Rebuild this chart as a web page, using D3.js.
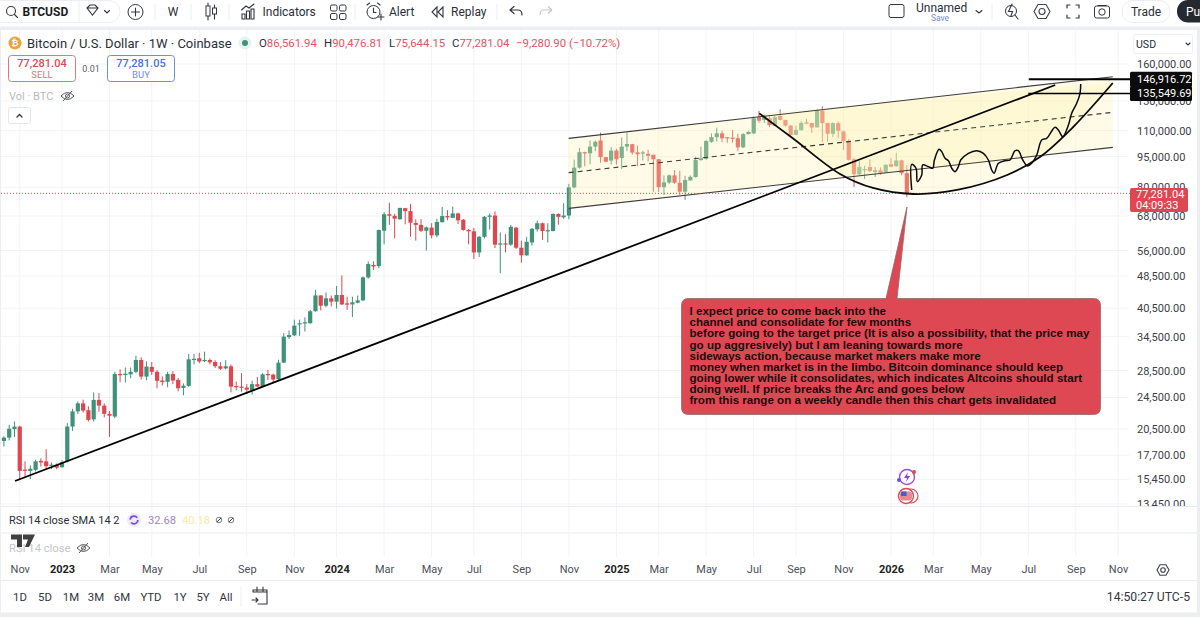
<!DOCTYPE html>
<html>
<head>
<meta charset="utf-8">
<title>BTCUSD weekly</title>
<script src="https://cdn.jsdelivr.net/npm/d3@7"></script>
<style>
    html, body { margin: 0; padding: 0; background: #fff; }
    svg { display: block; font-family: Roboto, "Open Sans", sans-serif; }
</style>
</head>
<body>
<div id="chart"></div>
<script>
// Weekly candles, Oct 17 2022 to Jan 26 2026
const weekOpen = [
    19180, 19540, 20500, 20790, 16320, 16200, 16300, 17150, 17100, 16680, 16780,
    16540, 17100, 20800, 22650, 23700, 22800, 21650, 24160, 23400, 22340, 22000, 27950, 27800,
    27900, 28300, 30250, 27550, 29100, 28300, 26950, 26750, 27950, 27040, 25850, 26150, 30300,
    30550, 30100, 30250, 29900, 29200, 28850, 29200, 26120, 26040, 25900, 25550, 26400, 26050,
    27950, 27850, 27150, 29800, 34400, 34750, 36950, 37150, 37200, 39800, 43500, 41050, 42800,
    42000, 43600, 41600, 41350, 41750, 42300, 48150, 51650, 51300, 62600, 68700, 68100, 66800,
    71100, 69900, 65400, 64700, 62600, 63700, 61000, 65700, 68000, 67300, 69000, 66600, 62900,
    62400, 55400, 60500, 67700, 68200, 57900, 58300, 57900, 63700, 56900, 54500, 58600, 63100,
    65300, 62400, 62500, 68800, 67500, 68200, 79900, 89300, 97400, 96800, 100500, 104000, 94700,
    92900, 98300, 94300, 100500, 101900, 97300, 96800, 96500, 96000, 93600, 80000, 82100, 85500,
    82000, 78000, 83100, 84700, 93200, 93800, 103300, 106000, 108300, 106000, 105700, 105400,
    100100, 107800, 108300, 118600, 116800, 118000, 113000, 119400, 116800, 113100, 107400,
    110200, 115200, 114800, 112000, 123000, 114700, 108000, 114700, 109500, 103700, 93600,
    86000, 88000, 89600, 87100, 88000, 86800, 91000, 90000, 93000, 86561.94
];
const weekHigh = [
    19700, 21000, 21400, 20900, 17100, 16700, 17250, 17400, 18300, 17000, 16900,
    17200, 21200, 23000, 23950, 24200, 23300, 25200, 25100, 23700, 22700, 28300, 28700, 29000,
    29000, 31000, 30700, 30000, 29900, 28600, 27600, 28300, 28400, 27350, 26500, 31300, 31300,
    31500, 31700, 30500, 30200, 29900, 30200, 29500, 26800, 28100, 26400, 26900, 27500, 28100,
    28600, 28000, 30300, 35200, 35700, 37950, 37950, 38450, 40100, 44900, 43500, 44200, 43500,
    45900, 48700, 43200, 43200, 43500, 48400, 52700, 52700, 63000, 69500, 73300, 68900, 71200,
    71200, 72800, 66800, 66800, 64100, 65300, 67000, 71600, 70300, 71700, 69300, 66900, 63200,
    63600, 60800, 68000, 69000, 69800, 62000, 61400, 64700, 64000, 59200, 60500, 63600, 66300,
    65500, 65300, 69000, 69000, 73100, 81500, 93400, 99700, 97700, 104000, 104000, 108700, 94800,
    100200, 99200, 105800, 108800, 102100, 101000, 98200, 98700, 96000, 93800, 85500, 86000, 88000,
    87700, 85300, 85500, 95000, 100500, 104300, 108300, 111800, 109900, 106000, 110400, 108000,
    108500, 109600, 119000, 122900, 120300, 119500, 119400, 123900, 116900, 113500, 113000,
    116000, 117400, 114900, 123900, 126000, 115100, 115200, 115900, 110000, 105000, 94300,
    92800, 90300, 93600, 89700, 89400, 91000, 94300, 97100, 93300, 90476.81
];
const weekLow = [
    18580, 19240, 19600, 15480, 15700, 15480, 16150, 16600, 16400, 16380, 16350,
    16500, 17000, 20300, 22300, 22500, 21400, 21400, 22600, 21900, 19620, 21800, 26700, 26650,
    27300, 28100, 27100, 27000, 27800, 25800, 26200, 25950, 26400, 25350, 24800, 26000, 29500,
    29700, 29900, 29500, 28900, 28600, 28700, 25200, 25500, 25300, 25000, 24900, 26000, 25950,
    27000, 26600, 26900, 29700, 34050, 34600, 34650, 35500, 37100, 39700, 40000, 40700, 40900,
    40400, 41200, 40100, 38500, 41600, 42200, 47800, 50200, 50700, 58000, 64700, 60000, 66600,
    64900, 60500, 59200, 62100, 56000, 60000, 60300, 65600, 66400, 67200, 65000, 62600, 58000,
    53400, 54000, 60000, 63000, 56800, 49300, 55400, 57500, 56500, 52300, 54400, 57600, 62300,
    59500, 58600, 62400, 64800, 67000, 66800, 79500, 88800, 90000, 91000, 97900, 91800, 92000,
    90900, 90800, 88600, 97900, 96000, 90000, 93000, 92500, 78000, 77900, 76500, 81500, 81500,
    76500, 74500, 83000, 84400, 92800, 93400, 102700, 103400, 103000, 102700, 102700, 97900,
    99700, 107700, 107900, 115000, 114800, 112100, 112800, 116500, 112500, 106600, 107300,
    110000, 114000, 108500, 111900, 103000, 103300, 106000, 105500, 98600, 93000, 80100,
    85500, 83800, 87000, 84700, 85800, 86700, 89500, 89700, 85500, 75644.15
];
const weekClose = [
    19540, 20550, 20790, 16200, 16260, 16400, 17100, 17000, 16640, 16780, 16500,
    17000, 20800, 22650, 23700, 22750, 21590, 24160, 23400, 22340, 22100, 27950, 27750, 28000,
    28300, 30250, 27550, 29140, 28300, 26900, 26700, 27950, 26950, 25800, 26170, 30360, 30450,
    30000, 30250, 29850, 29200, 28800, 29200, 26040, 26040, 25900, 25600, 26400, 26050, 27900,
    27850, 27100, 29800, 34500, 34800, 36700, 37200, 37400, 39800, 43500, 41050, 42800, 42000,
    43600, 41350, 41300, 41850, 42300, 48150, 51900, 51200, 62860, 68700, 68100, 67000, 71200,
    69900, 65500, 64700, 62600, 63800, 61000, 65800, 68000, 67500, 69000, 66400, 62900, 62400,
    55400, 60500, 67700, 68200, 57900, 58300, 58000, 64000, 56900, 54500, 58800, 63300, 65300,
    62500, 62800, 68800, 67700, 68200, 79900, 89300, 97400, 96800, 100500, 103300, 94700, 92300,
    98300, 93600, 100500, 102000, 97200, 96300, 97300, 95500, 93600, 80000, 82200, 85500, 82000,
    78000, 83300, 84800, 93200, 94100, 103700, 106000, 108300, 105300, 105300, 105400, 100100,
    107800, 109200, 117900, 116300, 119400, 113500, 118600, 116800, 113100, 107300, 110400,
    114900, 114400, 111900, 123400, 114700, 108000, 114700, 109900, 103700, 93300, 86000,
    89700, 88600, 87600, 88000, 86700, 90700, 89800, 93000, 86561.94, 77281.04
];

// Time axis
const timeTicks = ["2022-11-07", "2023-01-02", "2023-03-06", "2023-05-01", "2023-07-03", "2023-09-04", "2023-11-06",
    "2024-01-01", "2024-03-04", "2024-05-06", "2024-07-01", "2024-09-02", "2024-11-04",
    "2025-01-06", "2025-03-03", "2025-05-05", "2025-07-07", "2025-09-01", "2025-11-03",
    "2026-01-05", "2026-03-02", "2026-05-04", "2026-07-06", "2026-09-07", "2026-11-02"];
const timeLabels = ["Nov", "2023", "Mar", "May", "Jul", "Sep", "Nov", "2024", "Mar", "May", "Jul", "Sep", "Nov",
    "2025", "Mar", "May", "Jul", "Sep", "Nov", "2026", "Mar", "May", "Jul", "Sep", "Nov"];

// Price axis
const priceTicks = [160000, 130000, 110000, 95000, 80000, 68000, 56000, 48500, 40500, 34500, 28500, 24500, 20500, 17700, 15450, 13450];

// Drawings, x in weeks after Jan 2 2023
const channelWeeks = [95.95, 199];
const channelTop = [105300, 148960];
const channelMid = [86800, 121900];
const channelBottom = [71000, 100100];
const trendWeeks = [-8.9, 188.1];
const trendPrices = [15310, 142170];
const arcWeeks = [132.06, 138.4, 147.35, 153.6, 161.2, 169.5, 179, 185.2, 191.5, 199];
const arcPrices = [121200, 105300, 86160, 79630, 76990, 78740, 85680, 94800, 112240, 143770];
const pathWeeks = [160.92, 160.92, 161.74, 161.99, 162.82, 163, 164.08, 164.9, 165.22, 166.1, 166.6, 167.24, 167.87, 168.5,
    169.13, 169.76, 170.2, 171.66, 173.23, 174.5, 175.44, 176.07, 176.52, 177.34, 178.6, 179.55, 180.49, 181.12, 181.95,
    182.83, 183.65, 184.6, 185.54, 186.49, 188.07, 188.7, 189.52, 190.6, 191.22, 192.17, 192.8, 192.93];
const pathPrices = [78740, 90980, 88970, 82530, 85690, 90640, 89790, 88970, 93220, 98990, 97730, 94090, 92870, 88970,
    87310, 89790, 93220, 96780, 98240, 96780, 93220, 88120, 86480, 91490, 92870, 93220, 98240, 98240, 93220,
    90110, 91490, 95850, 104330, 105300, 112050, 110360, 106310, 113520, 121220, 128250, 135660, 142960];
const targetPrices = [146916.72, 135549.69];
const targetWeeks = [183.1, 183];
const lastPrice = 77281.04;
const calloutTip = [160.03, 71560];

const calloutLines = [
    "I expect price to come back into the",
    "channel and consolidate for few months",
    "before going to the target price (It is also a possibility, that the price may",
    "go up aggresively) but I am leaning towards more",
    "sideways action, because market makers make more",
    "money when market is in the limbo. Bitcoin dominance should keep",
    "going lower while it consolidates, which indicates Altcoins should start",
    "doing well. If price breaks the Arc and goes below",
    "from this range on a weekly candle then this chart gets invalidated"
];
const rangeButtons = ["1D", "5D", "1M", "3M", "6M", "YTD", "1Y", "5Y", "All"];
const rangeCenters = [20, 45, 71, 96, 122, 151, 180, 203, 226];

const UP = "#3f9279", DOWN = "#e0464f", INK = "#2a2e39", MUTED = "#5d606b";
const WEEK = 7 * 864e5;
const week0 = Date.UTC(2023, 0, 2);

class TradingChart {

    constructor() {
        this.width = 1200;
        this.height = 619;
        this.svg = d3.select("#chart").append("svg")
            .attr("width", this.width)
            .attr("height", this.height);

        this.x = d3.scaleUtc()
            .domain([new Date(week0), new Date(Date.UTC(2026, 0, 5))])
            .range([62, 891]);
        this.y = d3.scaleLog()
            .domain([13450, 160000])
            .range([504, 64]);

        this.drawFrame();
        this.drawGrid();
        this.drawCandles();
        this.drawDrawings();
        this.drawPriceAxis();
        this.drawTimeAxis();
        this.drawHeader();
        this.drawLegend();
        this.drawFooter();
    }

    wx(week) { return this.x(new Date(week0 + week * WEEK)); }

    text(str, x, y, opts = {}) {
        return this.svg.append("text")
            .text(str)
            .attr("x", x)
            .attr("y", y)
            .attr("dy", "0.35em")
            .attr("text-anchor", opts.anchor || "start")
            .attr("font-size", opts.size || 12)
            .attr("font-weight", opts.weight || 400)
            .attr("fill", opts.fill || INK);
    }

    drawFrame() {
        this.svg.append("rect").attr("width", this.width).attr("height", this.height).attr("fill", "#fff");
        const bands = [[0, 26.5, 1200, 3.5], [0, 612.5, 1200, 4.5], [1197, 27, 3, 590], [0, 27, 1, 590]];
        this.svg.selectAll("rect.band").data(bands).enter().append("rect")
            .classed("band", true)
            .attr("x", d => d[0]).attr("y", d => d[1]).attr("width", d => d[2]).attr("height", d => d[3])
            .attr("fill", "#eceef1");
        const rules = [506.5, 533, 580.5];
        this.svg.selectAll("line.rule").data(rules).enter().append("line")
            .classed("rule", true)
            .attr("x1", 1).attr("x2", 1197).attr("y1", d => d).attr("y2", d => d)
            .attr("stroke", "#e9ebee").attr("stroke-width", 1.2);
    }

    drawGrid() {
        const grid = this.svg.append("g").attr("stroke", "#f2f3f5").attr("stroke-width", 1);
        grid.selectAll("line.h").data(priceTicks).enter().append("line")
            .attr("x1", 1).attr("x2", 1129)
            .attr("y1", d => this.y(d)).attr("y2", d => this.y(d));
        timeTicks.forEach(t => {
            const px = this.x(new Date(t + "T00:00Z"));
            [[30, 506], [507, 533], [533, 557]].forEach(s => {
                grid.append("line").attr("x1", px).attr("x2", px).attr("y1", s[0]).attr("y2", s[1]);
            });
        });
    }

    drawCandles() {
        const days = d3.utcMonday.range(new Date(Date.UTC(2022, 9, 17)), new Date(Date.UTC(2026, 0, 27)));
        const candles = days.map((d, i) => ({
            date: d, open: weekOpen[i], high: weekHigh[i], low: weekLow[i], close: weekClose[i]
        }));
        const g = this.svg.append("g").attr("id", "candles");
        const color = d => d.close >= d.open ? UP : DOWN;
        g.selectAll("line").data(candles).enter().append("line")
            .attr("x1", d => this.x(d.date)).attr("x2", d => this.x(d.date))
            .attr("y1", d => this.y(d.high)).attr("y2", d => this.y(d.low))
            .attr("stroke", color).attr("stroke-width", 1);
        g.selectAll("rect").data(candles).enter().append("rect")
            .attr("x", d => this.x(d.date) - 2.1)
            .attr("width", 4.2)
            .attr("y", d => this.y(Math.max(d.open, d.close)))
            .attr("height", d => Math.max(1.2, Math.abs(this.y(d.open) - this.y(d.close))))
            .attr("fill", color);
    }

    drawDrawings() {
        const g = this.svg.append("g").attr("id", "drawings");
        const line = d3.line().x(d => this.wx(d[0])).y(d => this.y(d[1]));
        const curve = d3.line().x(d => this.wx(d[0])).y(d => this.y(d[1])).curve(d3.curveCatmullRom);
        const pts = (w, p) => w.map((v, i) => [v, p[i]]);
        const arc = pts(arcWeeks, arcPrices);

        // Channel fill and borders
        g.append("path")
            .attr("d", line(pts(channelWeeks, channelTop).concat(pts(channelWeeks, channelBottom).reverse())) + "Z")
            .attr("fill", "#fff3b0").attr("fill-opacity", 0.32);
        g.append("path").attr("d", curve(arc) + "Z")
            .attr("fill", "#fff3b0").attr("fill-opacity", 0.3);
        g.append("path").attr("d", line(pts(channelWeeks, channelTop))).attr("stroke", "#3c3c3c").attr("stroke-width", 1.1).attr("fill", "none");
        g.append("path").attr("d", line(pts(channelWeeks, channelBottom))).attr("stroke", "#3c3c3c").attr("stroke-width", 1.1).attr("fill", "none");
        g.append("path").attr("d", line(pts(channelWeeks, channelMid))).attr("stroke", "#3c3c3c").attr("stroke-width", 1.1).attr("stroke-dasharray", "5 4").attr("fill", "none");

        // Last price
        g.append("line")
            .attr("x1", 1).attr("x2", 1130)
            .attr("y1", this.y(lastPrice)).attr("y2", this.y(lastPrice))
            .attr("stroke", "#e0464f").attr("stroke-width", 1).attr("stroke-dasharray", "1 2");

        // Long trend line, arc, projected path
        g.append("path").attr("d", line(pts(trendWeeks, trendPrices))).attr("stroke", "#000").attr("stroke-width", 1.8).attr("fill", "none");
        g.append("path").attr("d", curve(arc)).attr("stroke", "#0a0a0a").attr("stroke-width", 1.8).attr("fill", "none");
        g.append("path").attr("d", curve(pts(pathWeeks, pathPrices)))
            .attr("stroke", "#0a0a0a").attr("stroke-width", 1.5).attr("stroke-linejoin", "round").attr("fill", "none");

        // Target levels
        g.selectAll("line.target").data(targetPrices).enter().append("line")
            .attr("x1", (d, i) => this.wx(targetWeeks[i])).attr("x2", 1130)
            .attr("y1", d => this.y(d)).attr("y2", d => this.y(d))
            .attr("stroke", "#000").attr("stroke-width", (d, i) => i ? 1.4 : 2);

        // Callout
        const tipX = this.wx(calloutTip[0]), tipY = this.y(calloutTip[1]);
        const bx = 681.5, by = 298.5, bw = 419, bh = 116, r = 7;
        g.append("path")
            .attr("d", `M${bx + r},${by}H886L${tipX},${tipY}L897,${by}H${bx + bw - r}Q${bx + bw},${by} ${bx + bw},${by + r}V${by + bh - r}Q${bx + bw},${by + bh} ${bx + bw - r},${by + bh}H${bx + r}Q${bx},${by + bh} ${bx},${by + bh - r}V${by + r}Q${bx},${by} ${bx + r},${by}Z`)
            .attr("fill", "#dd4853").attr("stroke", "#8c6a70").attr("stroke-width", 0.8);
        g.selectAll("text").data(calloutLines).enter().append("text")
            .text(d => d)
            .attr("x", 689.5)
            .attr("y", (d, i) => 311 + i * 11.15)
            .attr("dy", "0.35em")
            .attr("font-family", "Liberation Sans")
            .attr("font-size", 11.6)
            .attr("font-weight", 700)
            .attr("fill", "#1d0b0d");

        // Event markers
        const ev = g.append("g").attr("transform", "translate(907,477)");
        ev.append("circle").attr("r", 7.5).attr("fill", "#fff").attr("stroke", "#9a4fd0").attr("stroke-width", 1.4);
        ev.append("path").attr("d", "M1,-5L-3,1H0L-1,5L3,-1H0Z").attr("fill", "#8e44c8");
        ev.append("circle").attr("cx", -8).attr("cy", 3).attr("r", 2).attr("fill", "#6a4fd8");
        ev.append("circle").attr("cx", 7).attr("cy", -5).attr("r", 2).attr("fill", "#e0464f");
        const fl = this.svg.append("g").attr("transform", "translate(906,496)");
        fl.append("circle").attr("cx", 5).attr("r", 7).attr("fill", "#fff").attr("stroke", "#e0464f").attr("stroke-width", 1.2);
        fl.append("circle").attr("r", 7.5).attr("fill", "#fff").attr("stroke", "#e0464f").attr("stroke-width", 1.4);
        fl.append("rect").attr("x", -6).attr("y", -4.5).attr("width", 12).attr("height", 9).attr("rx", 3).attr("fill", "#e58a8f");
        fl.append("rect").attr("x", -5).attr("y", -4.5).attr("width", 5.5).attr("height", 4.5).attr("fill", "#3f62c9");
    }

    drawPriceAxis() {
        const axis = d3.axisRight(this.y)
            .tickValues(priceTicks)
            .tickFormat(d3.format(",.2f"))
            .tickSize(0)
            .tickPadding(0);
        const g = this.svg.append("g")
            .attr("transform", "translate(1137,0)")
            .call(axis);
        g.select(".domain").remove();
        g.selectAll("text")
            .attr("font-family", "Roboto, sans-serif")
            .attr("font-size", 11)
            .attr("fill", "#3d4048");

        // Panel edge clips the lowest label
        this.svg.append("rect").attr("x", 1130).attr("y", 507).attr("width", 67).attr("height", 25).attr("fill", "#fff");
        this.svg.append("line").attr("x1", 1130).attr("x2", 1197).attr("y1", 506.5).attr("y2", 506.5).attr("stroke", "#e9ebee").attr("stroke-width", 1.2);

        // Price tags
        const tagFmt = d3.format(",.2f");
        targetPrices.forEach(p => {
            const cy = this.y(p);
            this.svg.append("rect").attr("x", 1130).attr("y", cy - 7.5).attr("width", 62).attr("height", 15).attr("rx", 1.5).attr("fill", "#0b0b0b");
            this.text(tagFmt(p), 1137, cy, { size: 11, fill: "#fff" });
        });
        this.svg.append("rect").attr("x", 1130).attr("y", 188).attr("width", 58).attr("height", 24).attr("rx", 2).attr("fill", "#e0464f");
        this.text(tagFmt(lastPrice), 1136, 194, { size: 11, fill: "#fff" });
        this.text("04:09:33", 1136, 205, { size: 11, fill: "#fff" });
    }

    drawTimeAxis() {
        const dates = timeTicks.map(t => new Date(t + "T00:00Z"));
        const axis = d3.axisBottom(this.x)
            .tickValues(dates)
            .tickFormat((d, i) => timeLabels[i])
            .tickSize(0)
            .tickPadding(0);
        const g = this.svg.append("g")
            .attr("transform", "translate(0,565)")
            .call(axis);
        g.select(".domain").remove();
        g.selectAll("text")
            .attr("font-family", "Roboto, sans-serif")
            .attr("font-size", 11)
            .attr("font-weight", (d, i) => /^20/.test(timeLabels[i]) ? 700 : 400)
            .attr("fill", (d, i) => /^20/.test(timeLabels[i]) ? "#222" : "#4c4f58");
        this.gear(1163, 570, 6);
    }

    gear(cx, cy, r) {
        const hex = d3.range(6).map(i => [cx + r * Math.cos(i * Math.PI / 3), cy + r * Math.sin(i * Math.PI / 3)]);
        this.svg.append("path").attr("d", "M" + hex.join("L") + "Z").attr("fill", "none").attr("stroke", "#3d4048").attr("stroke-width", 1.1);
        this.svg.append("circle").attr("cx", cx).attr("cy", cy).attr("r", r * 0.38).attr("fill", "none").attr("stroke", "#3d4048").attr("stroke-width", 1.1);
    }

    icon(d, sw = 1.1) {
        return this.svg.append("path").attr("d", d).attr("fill", "none").attr("stroke", "#33363f").attr("stroke-width", sw).attr("stroke-linecap", "round");
    }

    drawHeader() {
        // Symbol pill
        this.svg.append("rect").attr("x", -10).attr("y", 0.5).attr("width", 130).attr("height", 22).attr("rx", 11).attr("fill", "none").attr("stroke", "#eceef1");
        this.svg.append("line").attr("x1", 79).attr("x2", 79).attr("y1", 0).attr("y2", 23).attr("stroke", "#eceef1");
        this.svg.append("circle").attr("cx", 11).attr("cy", 11).attr("r", 4.5).attr("fill", "none").attr("stroke", "#33363f").attr("stroke-width", 1.1);
        this.icon("M14.5,14.5L17.5,17.5");
        this.text("BTCUSD", 22.5, 12, { size: 12, weight: 700, fill: "#1b1d24" });
        this.icon("M87,8L90,5H95L98,8L92.5,15Z M87,8H98");
        this.icon("M104.5,10.5L107,13L109.5,10.5");

        this.svg.append("circle").attr("cx", 135.5).attr("cy", 12).attr("r", 7.5).attr("fill", "none").attr("stroke", "#33363f").attr("stroke-width", 1);
        this.icon("M131.5,12H139.5M135.5,8V16");
        this.text("W", 173, 12, { size: 12, anchor: "middle", weight: 400 });
        [155, 191, 229, 355, 497, 992].forEach(px => {
            this.svg.append("line").attr("x1", px).attr("x2", px).attr("y1", 4).attr("y2", 20).attr("stroke", "#eceef1");
        });

        // Candle icon
        this.icon("M208,3V20M214.5,5V19");
        this.svg.append("rect").attr("x", 206).attr("y", 6).attr("width", 4).attr("height", 10).attr("fill", "#fff").attr("stroke", "#33363f");
        this.svg.append("rect").attr("x", 212.5).attr("y", 8).attr("width", 4).attr("height", 6).attr("fill", "#fff").attr("stroke", "#33363f");

        // Indicators
        this.icon("M242,19V14H245V19ZM246.5,19V11H249.5V19ZM251,19V9H254V19Z M241.5,10L246,6L249,8L254,4");
        this.text("Indicators", 262.5, 12, { size: 12, weight: 400 });
        [[331, 6], [340, 6], [331, 14.5], [340, 14.5]].forEach(p => {
            this.svg.append("rect").attr("x", p[0] - 0.5).attr("y", p[1] - 1).attr("width", 6.5).attr("height", 6).attr("rx", 1.5).attr("fill", "none").attr("stroke", "#33363f");
        });

        // Alert, replay, undo, redo
        this.svg.append("circle").attr("cx", 373.5).attr("cy", 12).attr("r", 6.5).attr("fill", "none").attr("stroke", "#33363f");
        this.icon("M373.5,8V12.5L376,12.5M367,5L369.5,3M380,5L377.5,3M378,17H384M381,14V20");
        this.text("Alert", 389, 12, { size: 12, weight: 400 });
        this.icon("M437,7L432,12L437,17ZM443,7L438,12L443,17Z");
        this.text("Replay", 451, 12, { size: 12, weight: 400 });
        this.icon("M510,10H518Q522,10 522,15M510,10L514,6.5M510,10L514,13.5", 1.2);
        this.svg.append("path").attr("d", "M552,10H544Q540,10 540,15M552,10L548,6.5M552,10L548,13.5").attr("fill", "none").attr("stroke", "#c6c8cd").attr("stroke-width", 1.2);

        // Layout controls
        this.svg.append("rect").attr("x", 889).attr("y", 4.5).attr("width", 15).attr("height", 13).attr("rx", 2).attr("fill", "none").attr("stroke", "#33363f").attr("stroke-width", 1);
        this.text("Unnamed", 916, 7.5, { size: 12, weight: 400 });
        this.text("Save", 940, 18, { size: 8.5, anchor: "middle", fill: "#6f8ee8" });
        this.icon("M976,10.5L979,13L982,10.5");
        this.svg.append("circle").attr("cx", 1011).attr("cy", 11).attr("r", 5.5).attr("fill", "none").attr("stroke", "#33363f");
        this.icon("M1012,4L1008.5,11.5H1012.5L1011,16M1015,15L1018,19");
        this.gear(1042, 11.5, 8);
        this.icon("M1067,8V5H1070M1076,5H1079V8M1079,15V18H1076M1070,18H1067V15", 1.2);
        this.svg.append("rect").attr("x", 1094.5).attr("y", 6).attr("width", 15).attr("height", 12).attr("rx", 2).attr("fill", "none").attr("stroke", "#33363f");
        this.svg.append("circle").attr("cx", 1102).attr("cy", 12).attr("r", 3.2).attr("fill", "none").attr("stroke", "#33363f");
        this.icon("M1098,5.5H1106");
        this.svg.append("rect").attr("x", 1122).attr("y", 0.5).attr("width", 48).attr("height", 22).attr("rx", 11).attr("fill", "none").attr("stroke", "#eceef1");
        this.text("Trade", 1146, 12, { size: 12, anchor: "middle", weight: 400 });
        this.svg.append("rect").attr("x", 1177).attr("y", 0).attr("width", 40).attr("height", 22.5).attr("rx", 11).attr("fill", "#262a30");
        this.text("Pu", 1186, 12, { size: 12, fill: "#fff", weight: 400 });
    }

    drawLegend() {
        // Symbol line
        this.svg.append("circle").attr("cx", 15).attr("cy", 43).attr("r", 6.5).attr("fill", "#f0a13c");
        this.text("₿", 15, 43, { size: 8.5, anchor: "middle", fill: "#fff", weight: 700 });
        this.text("Bitcoin / U.S. Dollar · 1W · Coinbase", 27, 43, { size: 13, weight: 400 });
        this.svg.append("circle").attr("cx", 245).attr("cy", 43).attr("r", 6.5).attr("fill", "#e6f2ee");
        this.svg.append("circle").attr("cx", 245).attr("cy", 43).attr("r", 3).attr("fill", "#3f9279");
        [["O", "86,561.94", 259], ["H", "90,476.81", 324], ["L", "75,644.15", 389], ["C", "77,281.04", 452]].forEach(o => {
            const t = this.text(o[0], o[2], 43, { size: 11.4 });
            t.append("tspan").text(o[1]).attr("fill", "#e0565f");
        });
        this.text("−9,280.90 (−10.72%)", 516, 43, { size: 11.4, fill: "#e0565f" });

        // Sell and buy buttons
        this.svg.append("rect").attr("x", 8.5).attr("y", 55.5).attr("width", 67).attr("height", 26).attr("rx", 3).attr("fill", "#fff").attr("stroke", "#e0757c");
        this.text("77,281.04", 42, 63.5, { size: 11, anchor: "middle", fill: "#dc4a52", weight: 500 });
        this.text("SELL", 42, 75, { size: 9.5, anchor: "middle", fill: "#e0757c" });
        this.text("0.01", 91, 69, { size: 9, anchor: "middle", fill: MUTED });
        this.svg.append("rect").attr("x", 107.5).attr("y", 55.5).attr("width", 67).attr("height", 26).attr("rx", 3).attr("fill", "#fff").attr("stroke", "#6f8ee8");
        this.text("77,281.05", 141, 63.5, { size: 11, anchor: "middle", fill: "#4a6fd8", weight: 500 });
        this.text("BUY", 141, 75, { size: 9.5, anchor: "middle", fill: "#6f8ee8" });

        // Volume legend and collapse button
        this.text("Vol · BTC", 9, 96, { size: 11, fill: "#b8babf" });
        this.eye(67.5, 96, "#55585f");
        this.svg.append("rect").attr("x", 8.5).attr("y", 107.5).attr("width", 22).attr("height", 16).attr("rx", 2).attr("fill", "#fff").attr("stroke", "#e3e5e8");
        this.icon("M17,117L19.5,114.5L22,117", 1.3);

        // USD selector
        this.svg.append("rect").attr("x", 1133.5).attr("y", 34.5).attr("width", 59).attr("height", 19).attr("rx", 2).attr("fill", "#fff").attr("stroke", "#f0f1f3");
        this.text("USD", 1136, 44, { size: 10.6 });
        this.icon("M1186,43L1188,45L1190,43");

        // RSI pane
        this.text("RSI 14 close SMA 14 2", 9, 520, { size: 11 });
        this.svg.append("circle").attr("cx", 134).attr("cy", 520).attr("r", 7).attr("fill", "#efe9fb");
        this.svg.append("circle").attr("cx", 134).attr("cy", 520).attr("r", 3.8).attr("fill", "none").attr("stroke", "#6d4fd8").attr("stroke-width", 1.8).attr("stroke-dasharray", "9 3");
        this.text("32.68", 148, 520, { size: 11.2, fill: "#9d88cc" });
        this.text("40.18", 182, 520, { size: 11.2, fill: "#f9eaa5" });
        [219, 231].forEach(px => {
            this.svg.append("circle").attr("cx", px).attr("cy", 520).attr("r", 2.8).attr("fill", "none").attr("stroke", "#70737b").attr("stroke-width", 0.9);
            this.icon(`M${px - 2},${522}L${px + 2},${518}`, 0.9);
        });
        this.text("RSI 14 close", 9, 548, { size: 11.2, fill: "#c4c6ca" });
        this.eye(83.5, 548, "#55585f");

        // TradingView mark
        this.svg.append("path").attr("d", "M11,534.5H22V547H17V539.5H11ZM23,534.5H35L29,547H25L28,539.5H23Z").attr("fill", "#1e1e1e").attr("fill-opacity", 0.85);
    }

    eye(cx, cy, stroke) {
        this.svg.append("path")
            .attr("d", `M${cx - 6.5},${cy}Q${cx},${cy - 7} ${cx + 6.5},${cy}Q${cx},${cy + 7} ${cx - 6.5},${cy}Z M${cx - 4.5},${cy + 5}L${cx + 4.5},${cy - 5}`)
            .attr("fill", "none").attr("stroke", stroke).attr("stroke-width", 1);
        this.svg.append("circle").attr("cx", cx).attr("cy", cy).attr("r", 2).attr("fill", "none").attr("stroke", stroke);
    }

    drawFooter() {
        rangeButtons.forEach((b, i) => this.text(b, rangeCenters[i], 597, { size: 11.4, anchor: "middle", fill: "#33363f" }));
        this.svg.append("line").attr("x1", 241).attr("x2", 241).attr("y1", 587).attr("y2", 607).attr("stroke", "#eceef1");
        this.icon("M253,592V590H267V604H258M253,592H267M257,587V591M263,587V591M252,600H258M256,598L258,600L256,602");
        this.text("14:50:27 UTC-5", 1190, 597, { size: 12.2, anchor: "end", fill: "#33363f" });
    }
}

new TradingChart();
</script>
</body>
</html>
